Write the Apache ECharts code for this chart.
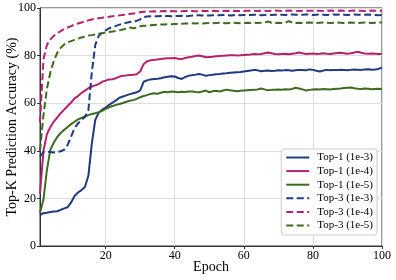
<!DOCTYPE html>
<html>
<head>
<meta charset="utf-8">
<script src="https://cdn.jsdelivr.net/npm/echarts@6/dist/echarts.min.js"></script>
<style>html,body{margin:0;padding:0;background:#fff}#c{width:396px;height:280px}</style>
</head>
<body>
<div id="c"></div>
<script>
var seriesNames = ['Top-1 (1e-3)', 'Top-1 (1e-4)', 'Top-1 (1e-5)', 'Top-3 (1e-3)', 'Top-3 (1e-4)', 'Top-3 (1e-5)'];
var xTicks = [20, 40, 60, 80, 100];

var top1_1e3 = [
13.0,13.8,14.0,14.3,14.5,14.6,15.2,15.8,16.3,18.3,
21.0,22.5,23.5,24.8,29.5,43.0,53.0,56.0,57.3,58.2,
59.3,60.2,61.2,62.3,62.8,63.3,63.8,64.2,64.6,65.4,
69.0,69.6,70.0,70.2,70.3,70.5,70.9,71.1,71.3,71.2,
70.6,70.2,71.0,71.5,71.8,72.0,72.3,72.0,71.5,71.8,
72.0,72.2,72.3,72.5,72.6,72.8,72.9,73.0,73.1,73.3,
73.5,73.7,74.0,73.8,73.4,73.6,73.7,73.5,73.6,73.8,
73.7,73.9,73.8,73.6,73.8,74.0,73.9,73.8,74.2,74.0,
73.6,73.3,73.7,74.0,73.8,74.0,73.9,74.1,74.0,73.8,
74.0,74.2,74.1,74.0,74.2,74.3,74.1,74.2,74.4,75.0];

var top1_1e4 = [
22.0,40.0,47.0,50.0,52.3,54.0,55.8,57.3,58.8,60.3,
62.0,63.0,64.3,65.3,66.3,67.0,67.5,68.0,69.0,69.5,
70.0,70.1,70.5,71.2,71.5,71.6,71.9,72.0,72.2,73.3,
76.4,77.6,78.0,78.2,78.4,78.6,78.8,78.9,78.9,79.0,
78.7,78.5,79.0,79.3,79.5,79.8,80.0,79.7,79.3,79.4,
79.5,79.7,79.8,79.9,80.0,80.1,80.2,80.0,80.1,80.3,
80.4,80.5,80.7,80.6,80.7,81.0,81.3,81.0,80.7,80.6,
80.7,80.8,80.6,80.8,81.0,81.3,81.0,80.7,80.8,80.9,
80.7,80.8,81.0,80.8,80.7,80.9,81.1,81.2,81.0,80.8,
81.0,81.3,81.6,81.2,80.9,80.8,80.9,80.8,80.7,80.7];

var top1_1e5 = [
14.0,19.5,32.0,40.5,43.5,45.8,47.5,48.8,50.0,51.2,
52.2,53.2,53.8,54.4,55.0,55.5,55.8,56.2,56.8,57.6,
58.3,58.8,59.3,59.7,60.1,60.6,61.0,61.3,61.8,62.5,
63.0,63.4,63.9,64.2,64.0,64.4,64.8,64.6,64.9,64.8,
64.6,64.8,64.7,64.9,64.9,64.7,64.6,64.9,65.3,64.6,
65.0,65.2,64.9,65.3,65.7,65.4,65.2,65.0,65.2,65.3,
65.4,65.5,65.6,65.8,66.2,65.8,65.4,65.6,65.7,65.8,
65.7,65.9,65.8,66.0,66.5,66.2,65.8,65.3,65.6,65.8,
65.9,65.8,66.0,65.9,65.8,66.0,66.1,66.2,66.4,66.5,
66.6,66.3,66.1,66.0,66.2,66.1,65.9,66.0,66.1,66.0];

var top3_1e3 = [
37.5,39.5,39.6,39.5,39.3,39.5,39.8,40.5,42.5,46.0,
49.5,51.5,53.0,54.2,57.0,73.0,84.5,88.3,89.6,90.6,
91.5,92.0,92.5,93.0,93.4,93.8,94.1,94.3,94.6,95.2,
96.2,96.4,96.5,96.6,96.5,96.6,96.7,96.6,96.5,96.6,
96.6,96.7,96.5,96.6,96.8,96.9,97.0,96.9,96.8,96.9,
97.0,96.9,97.0,97.1,97.0,96.9,97.0,97.1,97.0,97.1,
97.0,97.1,97.2,97.1,97.0,97.1,97.2,97.1,97.2,97.1,
97.2,97.1,97.2,97.3,97.2,97.1,97.2,97.3,97.2,97.1,
97.2,97.3,97.2,97.1,97.2,97.3,97.2,97.3,97.2,97.1,
97.2,97.3,97.2,97.1,97.2,97.3,97.2,97.1,97.0,97.1];

var top3_1e4 = [
52.0,78.5,84.5,86.8,88.3,89.4,90.3,91.2,91.8,92.4,
93.0,93.5,93.9,94.4,94.8,95.2,95.5,95.7,95.9,96.1,
96.3,96.5,96.7,96.9,97.1,97.3,97.5,97.7,97.9,98.2,
98.4,98.5,98.5,98.6,98.5,98.6,98.7,98.6,98.7,98.6,
98.7,98.6,98.7,98.8,98.7,98.6,98.7,98.8,98.7,98.7,
98.8,98.7,98.6,98.7,98.8,98.7,98.8,98.7,98.8,98.7,
98.8,98.9,98.8,98.7,98.8,98.8,98.7,98.8,98.9,98.8,
98.7,98.8,98.9,98.8,98.8,98.7,98.8,98.9,98.8,98.8,
98.9,98.8,98.7,98.8,98.9,98.8,98.8,98.9,98.8,98.7,
98.8,98.9,98.8,98.8,98.7,98.8,98.9,98.8,98.8,98.8];

var top3_1e5 = [
40.0,55.0,66.0,73.0,77.8,81.2,83.3,84.7,85.6,86.1,
86.6,87.1,87.6,88.0,88.4,88.6,88.9,89.2,89.4,89.7,
89.9,90.1,90.3,90.6,91.0,91.4,91.8,91.5,91.7,92.3,
92.5,92.6,92.8,92.9,93.0,93.1,93.1,93.2,93.2,93.3,
93.3,93.4,93.5,93.5,93.6,93.5,93.6,93.5,93.6,93.7,
93.6,93.7,93.8,93.7,93.6,93.7,93.8,93.7,93.6,93.7,
93.8,93.7,93.8,93.7,93.8,93.9,94.3,93.8,93.7,93.8,
93.7,93.8,94.5,93.9,93.7,93.8,93.7,93.8,93.9,93.8,
93.7,93.8,93.9,93.8,93.7,93.8,93.9,93.8,93.7,93.8,
93.9,93.8,93.7,93.8,93.9,93.8,93.7,93.8,93.9,93.9];

var seriesValues = [top1_1e3, top1_1e4, top1_1e5, top3_1e3, top3_1e4, top3_1e5];
var colors = ['#1f3a7d', '#b5226d', '#3e6a22', '#1f3a7d', '#b5226d', '#3e6a22'];
var FONT = '"Liberation Serif", "DejaVu Serif", serif';

function pairs(arr) {
  return arr.map(function (v, i) { return [i + 1, v]; });
}

var series = seriesValues.map(function (vals, k) {
  return {
    name: seriesNames[k],
    type: 'line',
    data: pairs(vals),
    showSymbol: false,
    symbol: 'none',
    smooth: false,
    lineStyle: {
      color: colors[k],
      width: 2,
      type: k < 3 ? 'solid' : [7, 3.5]
    },
    itemStyle: { color: colors[k] },
    emphasis: { disabled: true },
    z: 2 + k
  };
});

var chart = echarts.init(document.getElementById('c'), null, { renderer: 'canvas' });
chart.setOption({
  animation: false,
  backgroundColor: '#fff',
  color: colors,
  grid: {
    left: 40, right: 14, top: 8, bottom: 34,
    containLabel: false,
    outerBoundsMode: 'none',
    show: true, borderColor: '#333', borderWidth: 1, backgroundColor: 'transparent'
  },
  xAxis: {
    type: 'value',
    min: 1, max: 100,
    name: 'Epoch',
    nameLocation: 'middle',
    nameGap: 14,
    nameMoveOverlap: false,
    nameTextStyle: { fontFamily: FONT, fontSize: 14, color: '#000', verticalAlign: 'top' },
    axisLine: { show: true, lineStyle: { color: '#333', width: 1 } },
    axisTick: { show: true, length: 3, inside: false, customValues: xTicks, lineStyle: { color: '#333' } },
    axisLabel: { customValues: xTicks, fontFamily: FONT, fontSize: 12, color: '#000', margin: 4 },
    splitLine: { show: true, lineStyle: { color: '#dddddd', width: 1 } }
  },
  yAxis: {
    type: 'value',
    min: 0, max: 100, interval: 20,
    name: 'Top-K Prediction Accuracy (%)',
    nameLocation: 'middle',
    nameGap: 21,
    nameMoveOverlap: false,
    nameTextStyle: { fontFamily: FONT, fontSize: 14, color: '#000' },
    axisLine: { show: true, lineStyle: { color: '#333', width: 1 } },
    axisTick: { show: true, length: 3, lineStyle: { color: '#333' } },
    axisLabel: { fontFamily: FONT, fontSize: 12, color: '#000', margin: 4 },
    splitLine: { show: true, lineStyle: { color: '#dddddd', width: 1 } }
  },
  legend: {
    data: seriesNames,
    orient: 'vertical',
    right: 19,
    top: 149,
    padding: [3, 4, 4, 4],
    itemWidth: 23,
    itemHeight: 12,
    itemGap: 2.6,
    itemStyle: { opacity: 0 },
    backgroundColor: 'rgba(255,255,255,0.85)',
    borderColor: '#cccccc',
    borderWidth: 1,
    borderRadius: 3,
    textStyle: { fontFamily: FONT, fontSize: 11, color: '#000', padding: [0, 0, 0, 3] }
  },
  series: series
});
</script>
</body>
</html>
